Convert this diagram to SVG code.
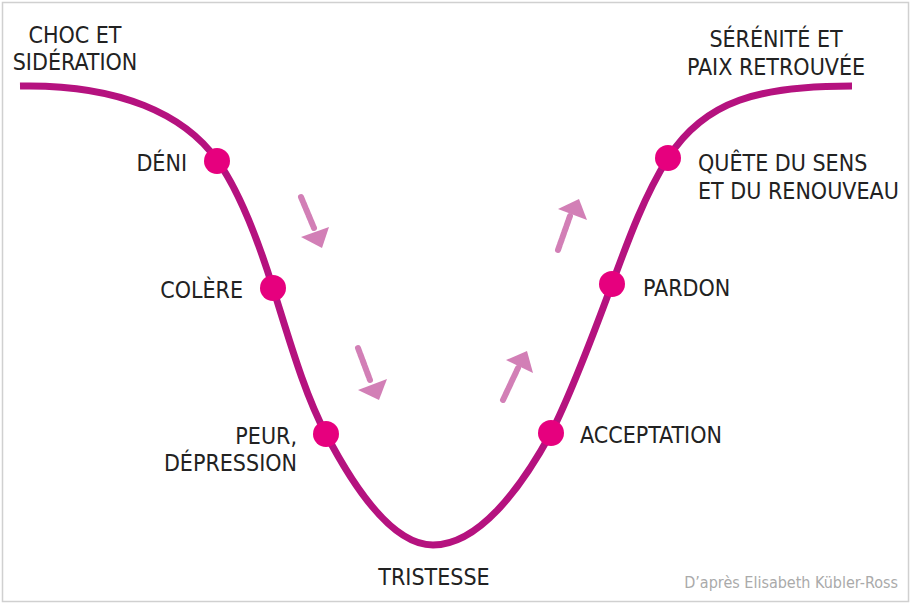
<svg xmlns="http://www.w3.org/2000/svg" width="911" height="605" viewBox="0 0 911 605">
<defs>
<style>
.t{font-family:"Liberation Sans Narrow","DejaVu Sans Condensed","Liberation Sans",sans-serif;font-size:23px;fill:#222;}
.c{font-family:"Liberation Sans Narrow","DejaVu Sans Condensed","Liberation Sans",sans-serif;font-size:16px;fill:#aaa;}
.dot{fill:#e6007e;}
.arr{stroke:#d27fb6;stroke-width:6;stroke-linecap:round;stroke-dasharray:5 1.5;fill:none;}
.head{fill:#d27fb6;}
</style>
</defs>
<rect x="2.5" y="2.5" width="906" height="599" fill="#fff" stroke="#d0d0d0" stroke-width="1.5"/>
<g id="connectors">
<path id="curve" d="M20,86 C120,84 185,115 217,160 C240,192 258,240 273,288 C290,342 305,395 326,434 C350,480 390,545 433,545 C478,545 520,490 551,433 C572,392 595,330 612,284 C630,235 645,195 668,158 C705,100 760,86 852,86" fill="none" stroke="#b5127f" stroke-width="7"/>
<g id="arrow1"><line class="arr" x1="301" y1="197" x2="314" y2="228"/><polygon class="head" points="301,237 329,227 322,248"/></g>
<g id="arrow2"><line class="arr" x1="358" y1="348" x2="370" y2="380"/><polygon class="head" points="358,390 387,379 379,400"/></g>
<g id="arrow3"><line class="arr" x1="558" y1="250" x2="570" y2="216"/><polygon class="head" points="558,209 579,199 587,220"/></g>
<g id="arrow4"><line class="arr" x1="503" y1="400" x2="518" y2="368"/><polygon class="head" points="506,360 527,351 533,373"/></g>
</g>
<g id="choc"><text class="t" x="75" y="43" text-anchor="middle">CHOC ET</text><text class="t" x="75" y="70" text-anchor="middle">SIDÉRATION</text></g>
<g id="serenite"><text class="t" x="776" y="47" text-anchor="middle">SÉRÉNITÉ ET</text><text class="t" x="776" y="75" text-anchor="middle">PAIX RETROUVÉE</text></g>
<g id="deni"><circle class="dot" cx="217" cy="161" r="13"/><text class="t" x="187" y="171" text-anchor="end">DÉNI</text></g>
<g id="colere"><circle class="dot" cx="273" cy="288" r="13"/><text class="t" x="243" y="298" text-anchor="end">COLÈRE</text></g>
<g id="peur"><circle class="dot" cx="326" cy="434" r="13"/><text class="t" x="297" y="444" text-anchor="end">PEUR,</text><text class="t" x="297" y="471" text-anchor="end">DÉPRESSION</text></g>
<g id="tristesse"><text class="t" x="434" y="585" text-anchor="middle">TRISTESSE</text></g>
<g id="acceptation"><circle class="dot" cx="551" cy="433" r="13"/><text class="t" x="580" y="443">ACCEPTATION</text></g>
<g id="pardon"><circle class="dot" cx="612" cy="284" r="13"/><text class="t" x="643" y="296">PARDON</text></g>
<g id="quete"><circle class="dot" cx="668" cy="158" r="13"/><text class="t" x="698" y="171">QUÊTE DU SENS</text><text class="t" x="698" y="199">ET DU RENOUVEAU</text></g>
<text class="c" x="898" y="588" text-anchor="end">D’après Elisabeth Kübler-Ross</text>
</svg>
